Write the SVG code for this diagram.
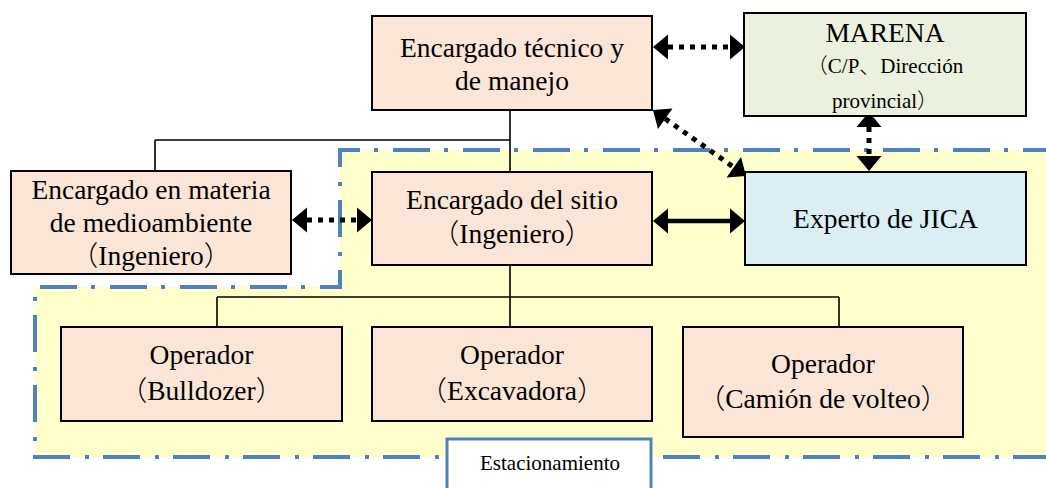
<svg xmlns="http://www.w3.org/2000/svg" width="1046" height="488" viewBox="0 0 1046 488">
<style>
.box{stroke:#000;stroke-width:2}
.peach{fill:#FBE5D6}
.t{font-family:"Liberation Serif","Times New Roman",serif;font-size:27.5px;fill:#000;text-anchor:middle}
.j{font-family:"Noto Sans CJK JP",sans-serif;font-weight:300}
.s{font-size:21px}
.ln{stroke:#000;stroke-width:1.6;fill:none}
.dot{stroke:#000;stroke-width:5;stroke-dasharray:5 6;fill:none}
.sol{stroke:#000;stroke-width:4.5;fill:none}
</style>
<defs>
<marker id="ah" markerUnits="userSpaceOnUse" markerWidth="16" markerHeight="26" refX="0" refY="12.5" orient="auto-start-reverse" overflow="visible">
<path d="M0,0 L15,12.5 L0,25 Z" fill="#000"/>
</marker>
</defs>
<rect width="1046" height="488" fill="#fff"/>
<g id="boundary">
<path d="M340,150 L1046,150 L1046,457 L35,457 L35,287 L340,287 Z" fill="#FFFFCC"/>
<path d="M1060,150 L340,150 L340,287 L35,287 L35,457 L1060,457" fill="none" stroke="#4F81BD" stroke-width="4" stroke-dasharray="37 15 4 14"/>
</g>
<g id="connectors">
<path class="ln" d="M510,110 V172 M155,140 H510 M155,140 V171 M510,265 V327 M217,297 H839 M217,297 V327 M839,297 V327"/>
<line class="dot" x1="668" y1="47" x2="730" y2="47" marker-start="url(#ah)" marker-end="url(#ah)"/>
<line class="dot" x1="869" y1="127" x2="869" y2="156" marker-start="url(#ah)" marker-end="url(#ah)"/>
<line class="dot" x1="665.2" y1="118.7" x2="733.8" y2="167.3" marker-start="url(#ah)" marker-end="url(#ah)"/>
<line class="dot" x1="307" y1="220" x2="357" y2="220" marker-start="url(#ah)" marker-end="url(#ah)"/>
<line class="sol" x1="668" y1="221" x2="730" y2="221" marker-start="url(#ah)" marker-end="url(#ah)"/>
</g>
<g id="tecnico">
<rect class="box peach" x="372" y="16" width="280" height="94"/>
<text class="t" x="512" y="57">Encargado técnico y</text>
<text class="t" x="512" y="90">de manejo</text>
</g>
<g id="marena">
<rect class="box" fill="#EBF1DE" x="744" y="13" width="282" height="103"/>
<text class="t" x="885" y="42">MARENA</text>
<text class="t s" x="885" y="73"><tspan class="j">（</tspan>C/P<tspan class="j">、</tspan>Dirección</text>
<text class="t s" x="885" y="108">provincial<tspan class="j">）</tspan></text>
</g>
<g id="medioambiente">
<rect class="box peach" x="11" y="171" width="280" height="103"/>
<text class="t" x="151" y="199">Encargado en materia</text>
<text class="t" x="151" y="232">de medioambiente</text>
<text class="t" x="151" y="265"><tspan class="j">（</tspan>Ingeniero<tspan class="j">）</tspan></text>
</g>
<g id="sitio">
<rect class="box peach" x="372" y="172" width="280" height="93"/>
<text class="t" x="512" y="209">Encargado del sitio</text>
<text class="t" x="512" y="243"><tspan class="j">（</tspan>Ingeniero<tspan class="j">）</tspan></text>
</g>
<g id="jica">
<rect class="box" fill="#DAEEF3" x="745" y="172" width="281" height="93"/>
<text class="t" x="885.5" y="228">Experto de JICA</text>
</g>
<g id="bulldozer">
<rect class="box peach" x="61" y="327" width="281" height="94"/>
<text class="t" x="201.5" y="364">Operador</text>
<text class="t" x="201.5" y="400"><tspan class="j">（</tspan>Bulldozer<tspan class="j">）</tspan></text>
</g>
<g id="excavadora">
<rect class="box peach" x="372" y="327" width="280" height="94"/>
<text class="t" x="512" y="364">Operador</text>
<text class="t" x="512" y="400"><tspan class="j">（</tspan>Excavadora<tspan class="j">）</tspan></text>
</g>
<g id="camion">
<rect class="box peach" x="683" y="327" width="280" height="110"/>
<text class="t" x="823" y="373">Operador</text>
<text class="t" x="823" y="408"><tspan class="j">（</tspan>Camión de volteo<tspan class="j">）</tspan></text>
</g>
<g id="estacionamiento">
<rect x="447" y="439" width="204" height="70" fill="#fff" stroke="#4F81BD" stroke-width="3"/>
<text class="t s" x="550" y="470">Estacionamiento</text>
</g>
</svg>
